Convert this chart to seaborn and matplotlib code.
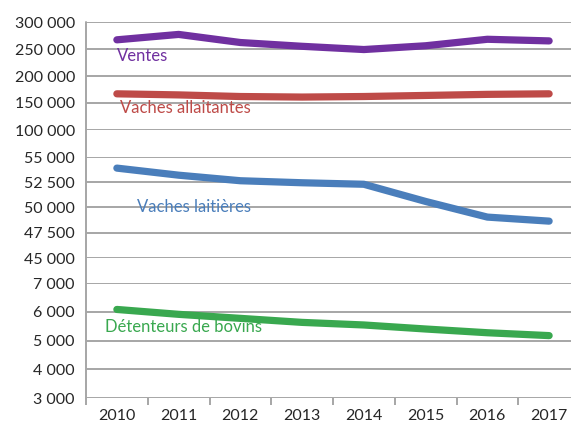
import matplotlib.pyplot as plt
import matplotlib.ticker as mticker
from matplotlib.lines import Line2D
import seaborn as sns
import pandas as pd

# values
years = [2010, 2011, 2012, 2013, 2014, 2015, 2016, 2017]
ventes = [267000, 277000, 262000, 255000, 249000, 256000, 268000, 265000]
vaches_allaitantes = [167000, 165000, 162000, 161000, 162000, 164000, 166000, 167000]
vaches_laitieres = [53900, 53200, 52650, 52450, 52300, 50600, 49050, 48650]
detenteurs = [6080, 5910, 5770, 5630, 5540, 5400, 5270, 5170]

purple = "#7030a0"
red = "#be4b48"
blue = "#4a7ebb"
green = "#39a84f"
grid_col = "#a6a6a6"
text_col = "#262626"

sns.set_theme(style="white")
plt.rcParams["font.family"] = ["Lato", "DejaVu Sans"]

df = pd.DataFrame({"Année": years, "Ventes": ventes,
                   "Vaches allaitantes": vaches_allaitantes,
                   "Vaches laitières": vaches_laitieres,
                   "Détenteurs de bovins": detenteurs})

W, H = 571, 423
fig = plt.figure(figsize=(W / 100, H / 100), dpi=100)
left, width = 86 / W, (580 - 86) / W
ax_top = fig.add_axes([left, 1 - 130 / H, width, 108 / H])
ax_mid = fig.add_axes([left, 1 - 258 / H, width, 101 / H])
ax_bot = fig.add_axes([left, 1 - 398 / H, width, 115 / H])


def thousands(v, pos):
    return f"{v:,.0f}".replace(",", " ")


def style(ax, lo, hi, step, bottom=False):
    ax.set_xlim(2009.5, 2017.5)
    ax.set_ylim(lo, hi)
    ax.yaxis.set_major_locator(mticker.MultipleLocator(step))
    ax.yaxis.set_major_formatter(mticker.FuncFormatter(thousands))
    ax.grid(axis="y", color=grid_col, linewidth=1.4)
    ax.set_axisbelow(True)
    for s in ax.spines.values():
        s.set_visible(False)
    ax.tick_params(axis="y", length=5, width=1.4, color=grid_col, pad=3,
                   labelsize=11.5, labelcolor=text_col)
    ax.set_xlabel("")
    ax.set_ylabel("")
    if bottom:
        ax.set_xticks(years)
        ax.set_xticks([y + 0.5 for y in years[:-1]] + [2009.5], minor=True)
        ax.tick_params(axis="x", which="major", length=0, pad=8,
                       labelsize=11.5, labelcolor=text_col)
        ax.tick_params(axis="x", which="minor", length=5, width=1.4,
                       color=grid_col, bottom=True)
    else:
        ax.set_xticks([])


lw = 5.2
sns.lineplot(data=df, x="Année", y="Ventes", ax=ax_top, color=purple,
             linewidth=lw, solid_capstyle="round", solid_joinstyle="round")
sns.lineplot(data=df, x="Année", y="Vaches allaitantes", ax=ax_top, color=red,
             linewidth=lw, solid_capstyle="round", solid_joinstyle="round")
sns.lineplot(data=df, x="Année", y="Vaches laitières", ax=ax_mid, color=blue,
             linewidth=lw, solid_capstyle="round", solid_joinstyle="round")
sns.lineplot(data=df, x="Année", y="Détenteurs de bovins", ax=ax_bot, color=green,
             linewidth=lw, solid_capstyle="round", solid_joinstyle="round")

style(ax_top, 100000, 300000, 50000)
style(ax_mid, 45000, 55000, 2500)
style(ax_bot, 3000, 7000, 1000, bottom=True)

# series names written inside the panels
ax_top.text(2010, 237000, "Ventes", color=purple, fontsize=12, va="center")
ax_top.text(2010.05, 141000, "Vaches allaitantes", color=red, fontsize=12, va="center")
ax_mid.text(2010.32, 50000, "Vaches laitières", color=blue, fontsize=12, va="center")
ax_bot.text(2009.81, 5470, "Détenteurs de bovins", color=green, fontsize=12, va="center")

# continuous left axis line across the three panels
fig.add_artist(Line2D([left, left], [1 - 22 / H, 1 - 398 / H],
                      transform=fig.transFigure, color=grid_col, linewidth=1.4))

fig.savefig("out.png", dpi=100)
